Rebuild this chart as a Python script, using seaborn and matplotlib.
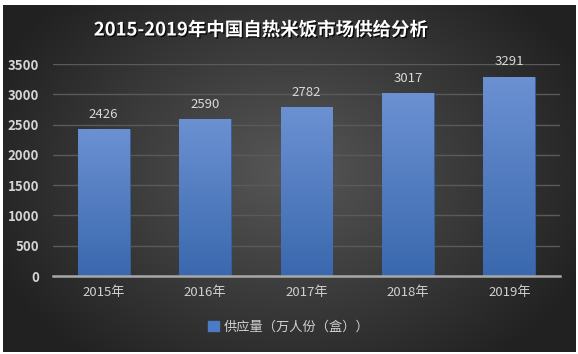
import numpy as np
import pandas as pd
import matplotlib
matplotlib.use("Agg")
import matplotlib.pyplot as plt
import matplotlib.patheffects as pe
import seaborn as sns

years = ["2015年", "2016年", "2017年", "2018年", "2019年"]
supply = [2426, 2590, 2782, 3017, 3291]
yticks = [0, 500, 1000, 1500, 2000, 2500, 3000, 3500]
title = "2015-2019年中国自热米饭市场供给分析"
legend_label = "供应量（万人份（盒））"

sns.set_theme(style="dark")
plt.rcParams['font.family'] = ['Noto Sans CJK SC', 'DejaVu Sans']

W, H = 578, 354
fig = plt.figure(figsize=(W / 100, H / 100), dpi=100)
fig.patch.set_facecolor("white")

# background radial gradient panel
bg = fig.add_axes([3 / W, 1 - 352 / H, 573 / W, 347 / H])
yy, xx = np.mgrid[0:200, 0:300]
cx, cy = 150, 95
r = np.sqrt(((xx - cx) / 170) ** 2 + ((yy - cy) / 140) ** 2)
v = np.clip(1 - r, 0, 1)
c0 = np.array([0.13, 0.13, 0.13])
c1 = np.array([0.34, 0.34, 0.34])
img = c0[None, None, :] + (c1 - c0)[None, None, :] * v[..., None]
bg.imshow(img, aspect="auto", extent=[0, 1, 0, 1], interpolation="bicubic")
bg.set_axis_off()

ax = fig.add_axes([53 / W, 1 - 276 / H, (560 - 53) / W, (276 - 64) / H])
ax.set_facecolor("none")
df = pd.DataFrame({"year": years, "supply": supply})
sns.barplot(data=df, x="year", y="supply", ax=ax, color="#4a7bc4", width=0.51,
            saturation=1, zorder=3)
ax.set_ylim(0, 3500)
ax.set_yticks(yticks)
ax.set_yticklabels([str(t) for t in yticks], color="#d4d4d4", fontsize=9.5,
                   fontweight="semibold")
ax.tick_params(axis="y", length=0, pad=10)
ax.tick_params(axis="x", length=0, pad=7, colors="#d0d0d0", labelsize=9.5)
ax.set_xlabel("")
ax.set_ylabel("")
ax.grid(axis="y", color="#5a5a5a", linewidth=1, zorder=0)
ax.grid(axis="x", visible=False)
for s in ["top", "right", "left"]:
    ax.spines[s].set_visible(False)
ax.spines["bottom"].set_color("#a8a8a8")
ax.spines["bottom"].set_linewidth(1.8)
ax.spines["bottom"].set_zorder(5)
ax.set_xlim(-0.5, 4.5)

# gradient fill clipped to bars
grad = np.linspace(0, 1, 256)[:, None]
cmap = matplotlib.colors.LinearSegmentedColormap.from_list("b", ["#3a68ae", "#6b91d2"])
for p in ax.patches:
    x0, y0 = p.get_x(), p.get_y()
    w, h = p.get_width(), p.get_height()
    im = ax.imshow(grad, cmap=cmap, origin="lower", aspect="auto",
                   extent=[x0, x0 + w, y0, y0 + h], zorder=4)
    im.set_clip_path(p)
    p.set_edgecolor("#3a5f9a")
    p.set_linewidth(0.6)
ax.set_xlim(-0.5, 4.5)
ax.set_ylim(0, 3500)

for i, val in enumerate(supply):
    ax.text(i, val + 140, str(val), ha="center", va="bottom", color="#d8d8d8",
            fontsize=9.5, zorder=6)

fig.text(261 / W, 1 - 30 / H, title, ha="center", va="center", color="white",
         fontsize=13.3, fontweight="bold",
         path_effects=[pe.withSimplePatchShadow(offset=(1, -1), shadow_rgbFace="black", alpha=0.8)])

# legend
from matplotlib.patches import Patch
handle = Patch(facecolor="#4a7bc4", edgecolor="#4a7bc4")
fig.legend([handle], [legend_label], loc="center", bbox_to_anchor=(289 / W, 1 - 327 / H),
           frameon=False, labelcolor="#d0d0d0", fontsize=9.5, handlelength=0.8,
           handleheight=0.8, handletextpad=0.4)

fig.savefig("out.png", dpi=100)
